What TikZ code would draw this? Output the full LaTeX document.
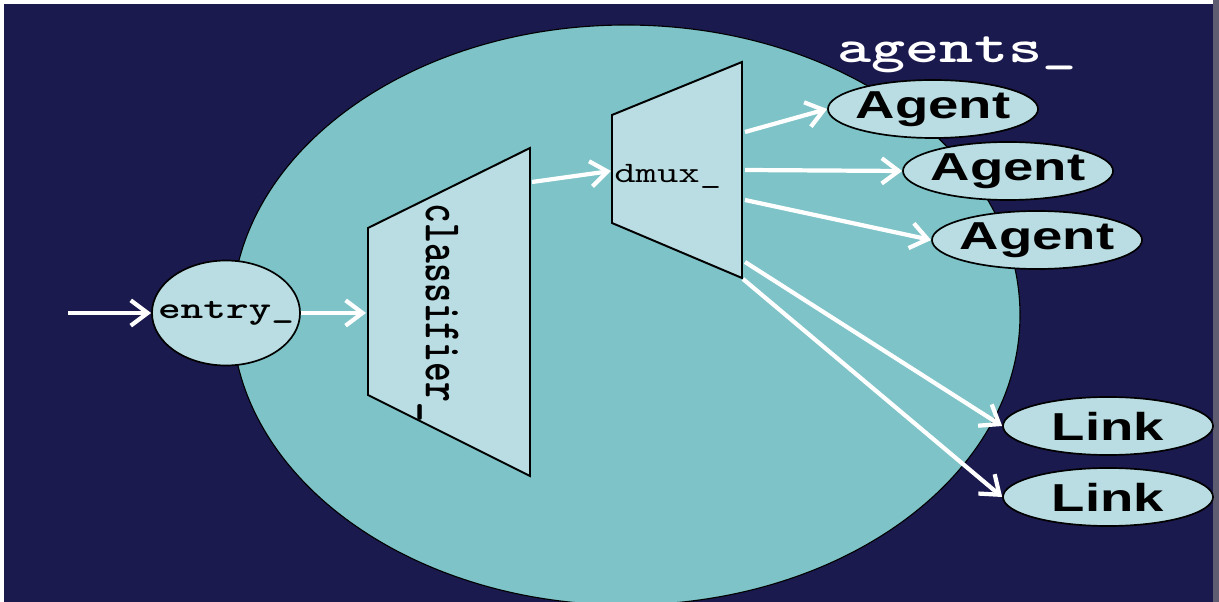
\documentclass[tikz,border=0pt]{standalone}
\usepackage{fontspec}
\usepackage{graphicx}
\newfontfamily\sansfam{Liberation Sans}
\usetikzlibrary{shapes.geometric,arrows.meta}
\definecolor{navy}{HTML}{1B1A4F}
\definecolor{poolteal}{HTML}{7DC3C8}
\definecolor{paleblue}{HTML}{B9DDE2}
\definecolor{edgegray}{HTML}{5E5C70}
% labels are set a little wider than their natural shape
\newcommand{\wide}[1]{\scalebox{1.4}[1]{#1}}
% a label that does not widen the outline around it
\newcommand{\tightlabel}[1]{\makebox[0pt]{\wide{#1}}}

\begin{document}
\begin{tikzpicture}[x=0.025cm,y=-0.025cm,
  blob/.style={ellipse, draw=black, line width=1.2pt, fill=paleblue, inner sep=0pt},
  endpoint/.style={blob, minimum width=5.25cm, minimum height=1.45cm,
    font=\sansfam\bfseries\fontsize{27.7}{30}\selectfont},
  funnel/.style={draw=black, line width=1.4pt, fill=paleblue, line join=miter},
  flow/.style={draw=white, line width=3pt,
    -{Straight Barb[length=12pt,width=18pt,line width=3pt]}},
  monolabel/.style={inner sep=0pt, font=\ttfamily\bfseries\fontsize{#1}{#1}\selectfont}
]
\useasboundingbox (0,0) rectangle (1219,602);
\fill[white] (0,0) rectangle (1219,602);
\fill[navy] (4,4) rectangle (1213,602);
\fill[edgegray] (1213,0) rectangle (1219,602);

% the shared pool
\begin{scope}
  \clip (4,4) rectangle (1213,602);
  \filldraw[fill=poolteal, draw=black, line width=0.8pt]
    (626,315) ellipse [x radius=394, y radius=290];
\end{scope}

% classifier and demultiplexer stages
\filldraw[funnel] (368,228) -- (530,148) -- (530,476) -- (368,395) -- cycle;
\filldraw[funnel] (612,115) -- (742,62) -- (742,278) -- (612,223) -- cycle;

\node[blob, minimum width=3.7cm, minimum height=2.625cm,
      font=\ttfamily\bfseries\fontsize{21.9}{24}\selectfont] (entry) at (226,313) {\tightlabel{entry\_}};

\node[monolabel=26.9] (clslabel) at (438,313) {\wide{\rotatebox{-90}{classifier\_}}};
\node[inner sep=0pt, font=\ttfamily\fontsize{21.1}{23}\selectfont, anchor=base west]
  (dmuxlabel) at (614,183) {\wide{dmux\_}};

\node[monolabel=33, text=white, anchor=base] (agentslabel) at (957,63) {\wide{agents\_}};

\node[endpoint] (agent1) at (933,109) {\tightlabel{Agent}};
\node[endpoint] (agent2) at (1008,171) {\tightlabel{Agent}};
\node[endpoint] (agent3) at (1037,240) {\tightlabel{Agent}};
\node[endpoint] (link1) at (1108,426) {\tightlabel{Link}};
\node[endpoint] (link2) at (1108,497) {\tightlabel{Link}};

% connection points on the stage outlines
\coordinate (feed) at (68,313);
\coordinate (clsIn) at (366,313);
\coordinate (clsOut) at (532,182);
\coordinate (dmuxIn) at (611,171);
\coordinate (outA1) at (745,132);
\coordinate (outA2) at (745,170);
\coordinate (outA3) at (745,200);
\coordinate (outL1) at (745,262);
\coordinate (outL2) at (743,279);

\draw[flow] (feed) -- (entry.west);
\draw[flow] (entry.east) -- (clsIn);
\draw[flow] (clsOut) -- (dmuxIn);
\draw[flow] (outA1) -- (agent1.west);
\draw[flow] (outA2) -- (agent2.west);
\draw[flow] (outA3) -- (agent3.west);
\draw[flow] (outL1) -- (link1.west);
\draw[flow] (outL2) -- (link2.west);
\end{tikzpicture}
\end{document}
